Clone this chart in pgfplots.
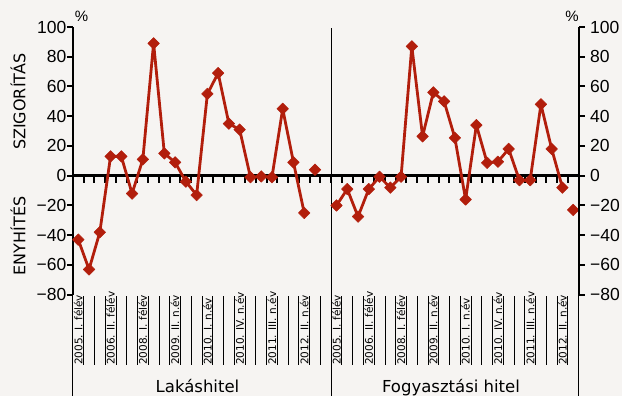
\documentclass[border=0pt]{standalone}
\usepackage{fontspec}
\setmainfont{DejaVu Sans}
\newfontfamily\numfont{Liberation Sans}
\usepackage{pgfplots}
\pgfplotsset{compat=1.18}
\definecolor{bg}{RGB}{246,244,242}
\definecolor{ser}{RGB}{178,30,12}
\pgfplotstableread{
x y
0 -43
1 -63
2 -38
3 13
4 13
5 -12
6 11
7 89
8 15
9 9
10 -4
11 -13
12 55
13 69
14 35
15 31
16 -1
17 -0.5
18 -1
19 45
20 9
21 -25
}\lakas
\pgfplotstableread{
x y
22 4
}\lakasv
\pgfplotstableread{
x y
24 -20
25 -9
26 -27.5
27 -9
28 -0.7
29 -8
30 -0.7
31 87
32 26.5
33 56
34 50
35 25.5
36 -16
37 34
38 8.7
39 9.4
40 18
41 -3
42 -3
43 48
44 18
45 -8
}\fogy
\pgfplotstableread{
x y
46 -23
}\fogyv
\begin{document}
\begin{tikzpicture}
\fill[bg] (0pt,0pt) rectangle (622pt,396pt);
\useasboundingbox (0pt,0pt) rectangle (622pt,396pt);
\node[rotate=90,font=\fontsize{16}{16}\selectfont] at (18pt,294.3pt) {SZIGORÍTÁS};
\node[rotate=90,font=\fontsize{16}{16}\selectfont] at (18pt,160.2pt) {ENYHÍTÉS};
\node[font=\numfont\fontsize{15}{15}\selectfont] at (81.5pt,379.5pt) {\%};
\node[font=\numfont\fontsize{15}{15}\selectfont] at (572pt,379.5pt) {\%};
\node[anchor=base,font=\fontsize{16.5}{16.5}\selectfont] at (197.5pt,3pt) {Lakáshitel};
\node[anchor=base,font=\fontsize{16.5}{16.5}\selectfont] at (451pt,3pt) {Fogyasztási hitel};
\begin{axis}[
  at={(72.9pt,101.3pt)}, anchor=south west,
  scale only axis, width=505.7pt, height=267.7pt,
  xmin=-0.5, xmax=46.5, ymin=-80, ymax=100,
  axis x line=none, axis y line*=left,
  axis line style={line width=2pt},
  ytick={-80,-60,...,100},
  yticklabels={−80,−60,−40,−20,0,20,40,60,80,100},
  yticklabel style={font=\numfont\fontsize{17.5}{17.5}\selectfont, xshift=3pt},
  tick align=outside, major tick length=6pt,
  tick style={line width=2pt,black},
  clip=false,
]
\draw[line width=2.5pt] (axis cs:-0.5,0) -- (axis cs:46.5,0);
\pgfplotsinvokeforeach{0.5,1.5,...,45.5}{
  \draw[line width=2pt] (axis cs:#1,0) -- ++(0pt,-7pt);
  \draw[line width=0.8pt] (axis cs:#1,-81) -- (axis cs:#1,-127.3);
}
\draw[line width=0.8pt] (axis cs:23.5,99.3) -- (axis cs:23.5,-150);
\draw[line width=0.8pt] (axis cs:-0.5,-80) -- (axis cs:-0.5,-150);
\draw[line width=0.8pt] (axis cs:46.5,-80) -- (axis cs:46.5,-150);
\pgfplotsinvokeforeach{0,24}{
  \node[rotate=90,anchor=west,inner sep=0pt,font=\fontsize{10.5}{10.5}\selectfont] at (axis cs:#1,-127.3) {2005. I. félév};
}
\pgfplotsinvokeforeach{3,27}{
  \node[rotate=90,anchor=west,inner sep=0pt,font=\fontsize{10.5}{10.5}\selectfont] at (axis cs:#1,-127.3) {2006. II. félév};
}
\pgfplotsinvokeforeach{6,30}{
  \node[rotate=90,anchor=west,inner sep=0pt,font=\fontsize{10.5}{10.5}\selectfont] at (axis cs:#1,-127.3) {2008. I. félév};
}
\pgfplotsinvokeforeach{9,33}{
  \node[rotate=90,anchor=west,inner sep=0pt,font=\fontsize{10.5}{10.5}\selectfont] at (axis cs:#1,-127.3) {2009. II. n.év};
}
\pgfplotsinvokeforeach{12,36}{
  \node[rotate=90,anchor=west,inner sep=0pt,font=\fontsize{10.5}{10.5}\selectfont] at (axis cs:#1,-127.3) {2010. I. n.év};
}
\pgfplotsinvokeforeach{15,39}{
  \node[rotate=90,anchor=west,inner sep=0pt,font=\fontsize{10.5}{10.5}\selectfont] at (axis cs:#1,-127.3) {2010. IV. n.év};
}
\pgfplotsinvokeforeach{18,42}{
  \node[rotate=90,anchor=west,inner sep=0pt,font=\fontsize{10.5}{10.5}\selectfont] at (axis cs:#1,-127.3) {2011. III. n.év};
}
\pgfplotsinvokeforeach{21,45}{
  \node[rotate=90,anchor=west,inner sep=0pt,font=\fontsize{10.5}{10.5}\selectfont] at (axis cs:#1,-127.3) {2012. II. n.év};
}
\addplot[ser, line width=2.8pt, line join=round, mark=square*, mark size=4.1pt, mark options={rotate=45, line width=0.5pt}] table {\lakas};
\addplot[ser, only marks, mark=square*, mark size=4.1pt, mark options={rotate=45, line width=0.5pt}] table {\lakasv};
\addplot[ser, line width=2.8pt, line join=round, mark=square*, mark size=4.1pt, mark options={rotate=45, line width=0.5pt}] table {\fogy};
\addplot[ser, only marks, mark=square*, mark size=4.1pt, mark options={rotate=45, line width=0.5pt}] table {\fogyv};
\end{axis}
\begin{axis}[
  at={(72.9pt,101.3pt)}, anchor=south west,
  scale only axis, width=505.7pt, height=267.7pt,
  xmin=-0.5, xmax=46.5, ymin=-80, ymax=100,
  axis x line=none, axis y line*=right,
  axis line style={line width=2pt},
  ytick={-80,-60,...,100},
  yticklabels={−80,−60,−40,−20,0,20,40,60,80,100},
  yticklabel style={font=\numfont\fontsize{17.5}{17.5}\selectfont, xshift=2pt},
  tick align=outside, major tick length=6pt,
  tick style={line width=2pt,black},
]
\addplot[draw=none] coordinates {(0,0)};
\end{axis}
\end{tikzpicture}
\end{document}
